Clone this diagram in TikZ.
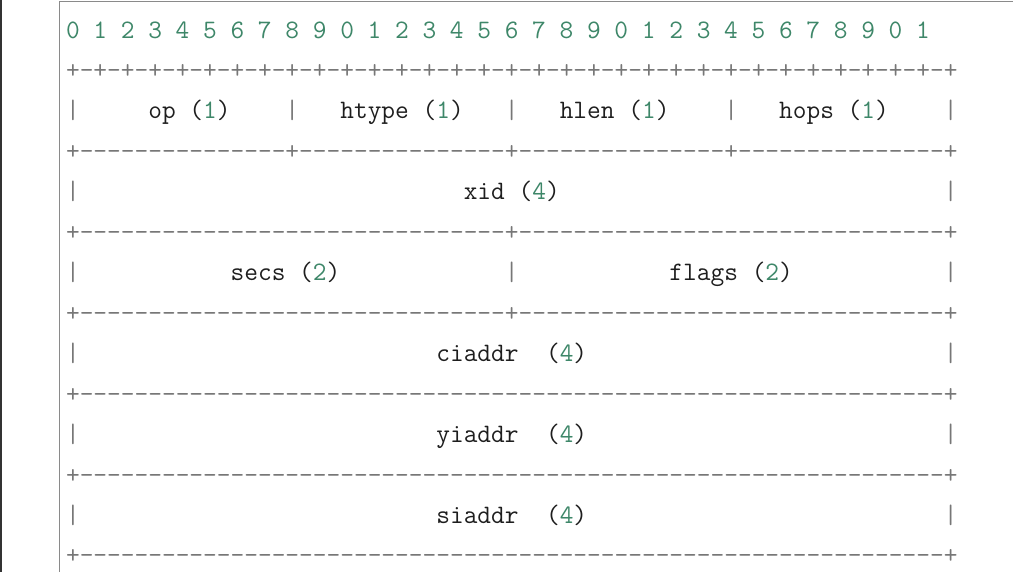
\documentclass[tikz,border=0pt]{standalone}
\definecolor{numgreen}{HTML}{3E8769}
\definecolor{rulegray}{HTML}{777777}
\definecolor{labelblack}{HTML}{1E1E1E}
\definecolor{framegray}{HTML}{8A8A8A}
\newcommand{\fld}[2]{\textcolor{labelblack}{#1~(\textcolor{numgreen}{#2})}}
\newcommand{\dashes}[1]{\foreach\k in {1,...,#1}{-}}
\newcommand{\gap}[1]{\foreach\k in {1,...,#1}{~}}

\begin{document}
\begin{tikzpicture}[x=1pt,y=-1pt,
    row/.style={anchor=base west, inner sep=0pt, text=rulegray,
        font=\ttfamily\fontsize{26.63}{26.63}\selectfont},
    frame/.style={draw=framegray, line width=1.6pt}]
    \useasboundingbox (0,0) rectangle (1013,572);
    % % ----- frame ----- % %
    \coordinate (fbot) at (59.5,572);
    \coordinate (ftop) at (1013,1.5);
    \draw [frame] (fbot) |- (ftop);
    \draw [draw=black!80, line width=1.6pt] (0.8,0) -- (0.8,572);   % left edge
    % % ----- bit ruler ----- % %
    \node[row, text=numgreen] (bits) at (65.85,38.5) {0~1~2~3~4~5~6~7~8~9~0~1~2~3~4~5~6~7~8~9~0~1~2~3~4~5~6~7~8~9~0~1};
    \node[row] (sep0) at (65.85,79) {\foreach\k in {1,...,32}{+-}+};
    % % ----- fields ----- % %
    \node[row] (opline) at (65.85,119) {|\gap{5}\fld{op}{1}\gap{4}|\gap{3}\fld{htype}{1}\gap{3}|\gap{3}\fld{hlen}{1}\gap{4}|\gap{3}\fld{hops}{1}\gap{4}|};   % op htype hlen hops
    \node[row] (sep1) at (65.85,159.8) {+\dashes{15}+\dashes{15}+\dashes{15}+\dashes{15}+};
    \node[row] (xidline) at (65.85,199.8) {|\gap{28}\fld{xid}{4}\gap{28}|};   % xid
    \node[row] (sep2) at (65.85,240.6) {+\dashes{31}+\dashes{31}+};
    \node[row] (secsline) at (65.85,280.6) {|\gap{11}\fld{secs}{2}\gap{12}|\gap{11}\fld{flags}{2}\gap{11}|};   % secs flags
    \node[row] (sep3) at (65.85,321.4) {+\dashes{31}+\dashes{31}+};
    \node[row] (ciline) at (65.85,361.4) {|\gap{26}\fld{ciaddr~}{4}\gap{26}|};   % ciaddr
    \node[row] (sep4) at (65.85,402.2) {+\dashes{63}+};
    \node[row] (yiline) at (65.85,442.2) {|\gap{26}\fld{yiaddr~}{4}\gap{26}|};   % yiaddr
    \node[row] (sep5) at (65.85,483) {+\dashes{63}+};
    \node[row] (siline) at (65.85,523) {|\gap{26}\fld{siaddr~}{4}\gap{26}|};   % siaddr
    \node[row] (sep6) at (65.85,563.8) {+\dashes{63}+};
\end{tikzpicture}
\end{document}
